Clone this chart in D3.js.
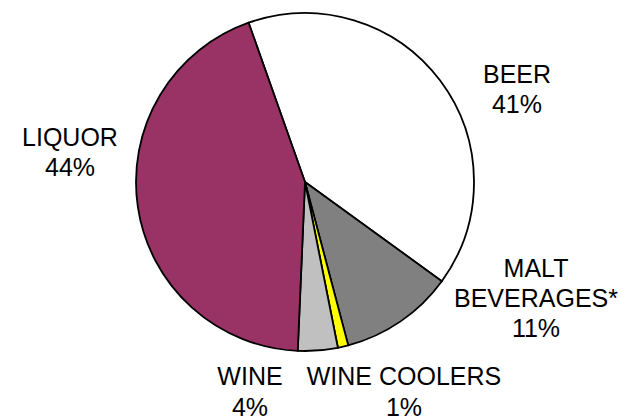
<!DOCTYPE html>
<html>
  <head>
    <meta charset="utf-8">
    <title>Alcohol sales</title>
    <script type="text/javascript" src="https://d3js.org/d3.v7.min.js"></script>
    <style>
      body { margin: 0; background: #ffffff; }
      text { font-family: "Liberation Sans", Arial, sans-serif; font-size: 25px; fill: #000000; }
    </style>
  </head>
  <body>
    <script type="text/javascript">

      // slices, clockwise from the liquor/beer edge
      var categories = ["BEER", "MALT BEVERAGES*", "WINE COOLERS", "WINE", "LIQUOR"];
      var shares = [40.4, 10.9, 1.0, 3.8, 43.9];
      var pctLabels = ["41%", "11%", "1%", "4%", "44%"];
      var colours = ["#ffffff", "#808080", "#ffff00", "#c0c0c0", "#993366"];

      var width = 625;
      var height = 419;
      var cx = 305, cy = 182, radius = 169;
      var start = -19.5 * Math.PI / 180;

      var svg = d3.select("body")
            .append("svg")
            .attr("width", width)
            .attr("height", height);

      var pie = d3.pie()
            .sort(null)
            .value(function(d) { return d; })
            .startAngle(start)
            .endAngle(start + 2 * Math.PI);

      var arc = d3.arc().innerRadius(0).outerRadius(radius);

      var g = svg.append("g")
            .attr("transform", "translate(" + cx + "," + cy + ")");

      g.selectAll("path")
          .data(pie(shares))
          .enter()
          .append("path")
          .attr("d", arc)
          .attr("fill", function(d, i) { return colours[i]; })
          .attr("stroke", "#000")
          .attr("stroke-width", 1.8)
          .attr("stroke-linejoin", "round");

      // label placement (x centre, first baseline) relative to pie centre
      var labelPos = [[212, -99], [231, 95], [99, 203], [-55, 203], [-235, -36]];
      var lineGap = [30, 30, 31, 31, 30];

      var labels = g.selectAll("text.lbl")
          .data(categories)
          .enter()
          .append("text")
          .attr("class", "lbl")
          .attr("text-anchor", "middle")
          .attr("x", function(d, i) { return labelPos[i][0]; })
          .attr("y", function(d, i) { return labelPos[i][1]; });

      labels.each(function(d, i) {
        var lines = d == "MALT BEVERAGES*" ? ["MALT", "BEVERAGES*"] : [d];
        lines.push(pctLabels[i]);
        var t = d3.select(this);
        lines.forEach(function(l, j) {
          t.append("tspan")
            .attr("x", labelPos[i][0])
            .attr("dy", j == 0 ? 0 : lineGap[i])
            .text(l);
        });
      });

    </script>
  </body>
</html>
